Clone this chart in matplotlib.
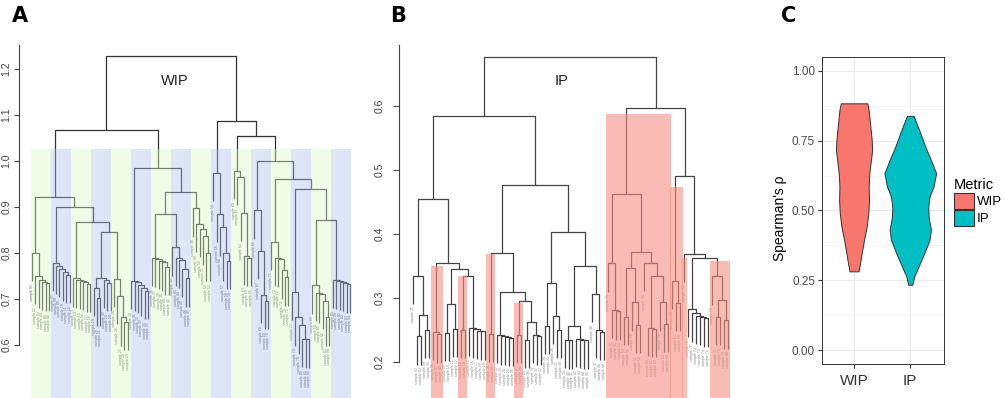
import numpy as np
import matplotlib.pyplot as plt
from matplotlib.collections import LineCollection
from matplotlib.patches import Rectangle, Patch

plt.rcParams['font.family'] = ['Liberation Sans', 'DejaVu Sans']

L = None  # a leaf


def chain(*hs):
    # staircase cluster: one leaf splits off at every height
    node = (hs[-1], L, L)
    for h in reversed(hs[:-1]):
        node = (h, L, node)
    return node


# ---- panel A : WIP dendrogram (merge heights) ----
a1 = (0.80, L, chain(0.75, 0.742, 0.738, 0.735))
a2 = chain(0.778, 0.772, 0.766, 0.758, 0.752)
a3 = chain(0.745, 0.742, 0.740, 0.737, 0.733)
a4 = (0.745, (0.725, L, (0.703, L, L)), chain(0.742, 0.735))
a5 = chain(0.744, 0.707, 0.66, 0.65)
a6 = chain(0.74, 0.736, 0.731, 0.724, 0.718)
a7 = chain(0.79, 0.787, 0.783, 0.78, 0.77)
a8 = chain(0.812, 0.79, 0.785, 0.766, 0.745)
a9 = chain(0.897, 0.863, 0.852, 0.836, 0.80)
a10 = chain(0.974, 0.885, 0.856, 0.80, 0.783)
a11 = chain(0.979, 0.966, 0.888, 0.793, 0.79)
a12 = chain(0.893, 0.805, 0.709, 0.696)
a13 = chain(0.825, 0.79, 0.787, 0.762, 0.747)
a14 = chain(0.715, 0.66, 0.643, 0.614, 0.612)
a15 = chain(0.73, 0.714, 0.71, 0.696, 0.66)
a16 = chain(0.741, 0.74, 0.738, 0.735, 0.732)
A_LL = (0.922, a1, (0.899, a2, (0.868, a3, (0.845, a4, a5))))
A_LR = (0.985, a6, (0.932, (0.885, a7, a8), a9))
A_R = (1.086, a10, (1.054, a11, (1.0, a12, (0.961, a13, (0.94, a14, (0.872, a15, a16))))))
tree_wip = (1.2275, (1.068, A_LL, A_LR), A_R)
wip_ticks = [0.6, 0.7, 0.8, 0.9, 1.0, 1.1, 1.2]
stripe_colors = ['#d9fac5', '#acc0f2'] * 8

# ---- panel B : IP dendrogram ----
b1 = (0.335, L, (0.274, (0.24, L, L), (0.25, L, L)))
b2 = (0.247, L, (0.243, L, L))
b3 = (0.291, (0.245, L, L), (0.252, L, L))
b4 = (0.25, L, L)
b5 = chain(0.253, 0.251, 0.249, 0.248)
b6 = (0.244, L, L)
b7 = chain(0.242, 0.24, 0.239, 0.238)
b8 = (0.242, L, L)
b9 = (0.263, (0.235, L, L), (0.242, L, (0.24, L, L)))
b10 = (0.323, (0.257, L, L), (0.272, L, (0.25, L, L)))
b11 = (0.257, (0.235, L, (0.234, L, L)), (0.236, L, chain(0.235, 0.234)))
b12 = chain(0.306, 0.25, 0.247)
b13 = (0.354, L, chain(0.281, 0.279))
b14 = (0.347, (0.27, L, L), (0.293, L, (0.258, L, L)))
b15 = (0.355, L, (0.334, chain(0.253, 0.252), (0.293, L, (0.26, L, L))))
b16 = chain(0.327, 0.292)
b17_lone = [L]
b17_tail = (0.334, L, (0.297, (0.27, L, L), (0.265, L, L)))
b17 = (0.369, b17_lone, (0.362, chain(0.283, 0.276, 0.272, 0.27, 0.268), b17_tail))
B_LL = (0.454, b1, (0.354, b2, (0.346, b3, (0.334, b4, b5))))
B_LR = (0.477, (0.371, b6, (0.309, b7, (0.296, b8, b9))), (0.403, b10, (0.35, b11, b12)))
B_RL = (0.463, b13, (0.372, b14, b15))
B_RR = (0.49, b16, b17)
tree_ip = (0.676, (0.584, B_LL, B_LR), (0.597, B_RL, B_RR))
ip_ticks = [0.2, 0.3, 0.4, 0.5, 0.6]
ip_bands = [(b2, 0.35), (b4, 0.334), (b6, 0.369), (b8, 0.292),
            (B_RL, 0.5875), (b16, 0.473), (b17_lone, 0.3625), (b17_tail, 0.358)]

# ---- panel C : violins (rho level, half width) ----
metrics = ['WIP', 'IP']
metric_colors = ['#F8766D', '#00BFC4']
wip_rho = [0.282, 0.311, 0.347, 0.395, 0.443, 0.49, 0.538, 0.586, 0.634, 0.68, 0.717, 0.753, 0.813, 0.86, 0.884]
wip_width = [0.08, 0.107, 0.136, 0.178, 0.225, 0.254, 0.266, 0.26, 0.272, 0.30, 0.322, 0.314, 0.284, 0.26, 0.237]
ip_rho = [0.234, 0.264, 0.3, 0.347, 0.395, 0.431, 0.479, 0.514, 0.55, 0.586, 0.634, 0.681, 0.729, 0.777, 0.813, 0.839]
ip_width = [0.036, 0.071, 0.148, 0.25, 0.343, 0.367, 0.325, 0.32, 0.343, 0.414, 0.46, 0.367, 0.266, 0.18, 0.11, 0.06]
rho_ticks = [0.0, 0.25, 0.5, 0.75, 1.0]


def draw_dendrogram(ax, tree, hang, color, label_color, gap):
    segs, tips, spans = [], [], {}
    count = [0]

    def walk(node):
        if not isinstance(node, tuple):
            count[0] += 1
            spans[id(node)] = (count[0], count[0])
            return count[0], None
        h, a, b = node
        first = count[0] + 1
        pos = []
        for child in (a, b):
            x, hc = walk(child)
            if hc is None:
                hc = h - hang
                tips.append((x, hc))
            pos.append((x, hc))
        (xa, ya), (xb, yb) = pos
        segs.append([(xa, ya), (xa, h), (xb, h), (xb, yb)])
        spans[id(node)] = (first, count[0])
        return (xa + xb) / 2, h

    walk(tree)
    ax.add_collection(LineCollection(segs, colors=color, linewidths=0.9, zorder=2))
    for x, y in sorted(tips):
        ax.text(x, y - gap, 'sample %02d' % x, rotation=90, ha='center', va='top',
                fontsize=2.6, color=label_color, zorder=2)
    return spans, count[0]


def style_axis(ax, ticks, top):
    for s in ['top', 'right', 'bottom']:
        ax.spines[s].set_visible(False)
    ax.spines['left'].set_bounds(ticks[0], top)
    ax.spines['left'].set_color('#444')
    ax.set_xticks([])
    ax.set_yticks(ticks)
    ax.set_yticklabels(['%.1f' % t for t in ticks])
    ax.tick_params(axis='y', length=4.2, color='#444', labelsize=7.5, labelcolor='#444', pad=6)
    for lab in ax.get_yticklabels():
        lab.set_rotation(90)
        lab.set_va('center')
    ax.patch.set_alpha(0)


fig = plt.figure(figsize=(10.05, 3.98), dpi=100)

# panel A
ax_a = fig.add_axes([19 / 1005, 0, 343 / 1005, 1])
hang_a = 0.1 * (tree_wip[0] - 0.612)
spans_a, n_a = draw_dendrogram(ax_a, tree_wip, hang_a, '#333333', '#555555', 0.006)
upx = (n_a - 1) / 318
ax_a.set_xlim(1 - 13 * upx, n_a + 12 * upx)
ax_a.set_ylim(0.4848, 1.35)
edges = np.linspace(0.7, n_a + 0.3, len(stripe_colors) + 1)
for i, c in enumerate(stripe_colors):
    ax_a.add_patch(Rectangle((edges[i], 0.4848), edges[i + 1] - edges[i], 1.026 - 0.4848,
                             facecolor=c, edgecolor='none', alpha=0.4, zorder=3))
style_axis(ax_a, wip_ticks, 1.252)
ax_a.tick_params(axis='y', length=3.6, pad=2.0)

# panel B
ax_b = fig.add_axes([399 / 1005, 0, 341 / 1005, 1])
hang_b = 0.1 * (tree_ip[0] - 0.234)
spans_b, n_b = draw_dendrogram(ax_b, tree_ip, hang_b, '#444444', '#8a8a8a', 0.004)
upx = (n_b - 1) / 315
ax_b.set_xlim(1 - 14 * upx, n_b + 12 * upx)
ax_b.set_ylim(0.14375, 0.7656)
for node, top in ip_bands:
    x0, x1 = spans_b[id(node)]
    ax_b.add_patch(Rectangle((x0 - 0.6, 0.14375), x1 - x0 + 1.2, top - 0.14375,
                             facecolor='#f58f82', edgecolor='none', alpha=0.6, zorder=3))
style_axis(ax_b, ip_ticks, 0.695)

# panel C
ax_c = fig.add_axes([822 / 1005, 1 - 364 / 398, 122 / 1005, 307 / 398])
for i, (rho, w) in enumerate([(wip_rho, wip_width), (ip_rho, ip_width)]):
    rho = np.array(rho)
    w = np.array(w)
    ax_c.fill_betweenx(rho, i + 1 - w, i + 1 + w, facecolor=metric_colors[i],
                       edgecolor='#333333', linewidth=0.7, zorder=3)
ax_c.set_xlim(0.43, 2.6)
ax_c.set_ylim(-0.05, 1.05)
ax_c.set_xticks([1, 2])
ax_c.set_xticklabels(metrics)
ax_c.set_yticks(rho_ticks)
ax_c.set_yticklabels(['%.2f' % t for t in rho_ticks])
ax_c.set_yticks([0.125, 0.375, 0.625, 0.875], minor=True)
ax_c.grid(which='major', color='#ebebeb', linewidth=0.8, zorder=0)
ax_c.grid(which='minor', axis='y', color='#f2f2f2', linewidth=0.5, zorder=0)
ax_c.set_axisbelow(True)
for s in ax_c.spines.values():
    s.set_color('#333333')
    s.set_linewidth(0.7)
ax_c.tick_params(axis='y', which='major', length=3, color='#333', labelsize=8.5, labelcolor='#4d4d4d', pad=2)
ax_c.tick_params(axis='y', which='minor', length=0)
ax_c.tick_params(axis='x', length=3, color='#333', labelsize=11, labelcolor='#333', pad=4)
fig.text(780 / 1005, 1 - 218 / 398, "Spearman's ρ", rotation=90, ha='center', va='center', fontsize=10)

handles = [Patch(facecolor=c, edgecolor='#333333', linewidth=0.8) for c in metric_colors]
leg = fig.legend(handles, metrics, title='Metric', loc='upper left', bbox_to_anchor=(954 / 1005, 1 - 178 / 398),
                 frameon=False, fontsize=9.5, title_fontsize=10.5, handlelength=1.55, handleheight=1.55,
                 handletextpad=0.2, borderpad=0, labelspacing=0.05, borderaxespad=0)
leg._legend_box.align = 'left'

# titles and panel letters
fig.text(175 / 1005, 1 - 81 / 398, 'WIP', ha='center', va='center', fontsize=10.5, color='#222')
fig.text(562 / 1005, 1 - 81 / 398, 'IP', ha='center', va='center', fontsize=10.5, color='#222')
for letter, px in [('A', 12), ('B', 390), ('C', 781)]:
    fig.text(px / 1005, 1 - 16 / 398, letter, ha='left', va='center', fontsize=15,
             fontweight='bold', family='DejaVu Sans')

fig.savefig('out.png', dpi=100, facecolor='white')
